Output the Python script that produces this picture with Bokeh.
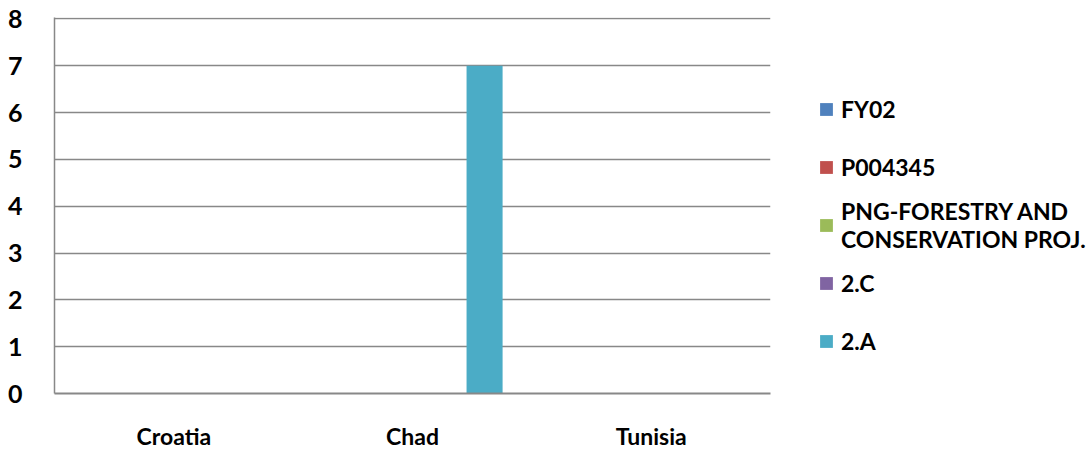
from bokeh.plotting import figure
from bokeh.models import Range1d, FactorRange, ColumnDataSource, Legend, LegendItem
from bokeh.transform import dodge
from bokeh.embed import file_html
from bokeh.resources import INLINE

categories = ["Croatia", "Chad", "Tunisia"]
series_names = ["FY02", "P004345", "PNG-FORESTRY AND\nCONSERVATION PROJ.", "2.C", "2.A"]
fy02 = [0, 0, 0]
p004345 = [0, 0, 0]
png_forestry = [0, 0, 0]
s_2c = [0, 0, 0]
s_2a = [0, 7, 0]
y_ticks = [0, 1, 2, 3, 4, 5, 6, 7, 8]

colors = ["#4F81BD", "#C0504D", "#9BBB59", "#8064A2", "#4BACC6"]
series_values = [fy02, p004345, png_forestry, s_2c, s_2a]
keys = ["s0", "s1", "s2", "s3", "s4"]

data = {"cat": categories}
for k, v in zip(keys, series_values):
    data[k] = v
source = ColumnDataSource(data)

FONT = "Lato"
GRID = "#888888"

p = figure(x_range=FactorRange(*categories, range_padding=0), y_range=Range1d(0, 8.03),
           frame_width=716, frame_height=376, output_backend="svg", toolbar_location=None,
           min_border_left=54, min_border_right=0, min_border_top=17, min_border_bottom=0)
p.outline_line_color = None
p.background_fill_color = "white"
p.border_fill_color = "white"

bw = 0.151
offsets = [-2 * bw, -bw, 0, bw, 2 * bw]
renderers = []
for k, off, c in zip(keys, offsets, colors):
    r = p.vbar(x=dodge("cat", off, range=p.x_range), top=k, bottom=0, width=bw,
               source=source, fill_color=c, line_color=None)
    renderers.append(r)

p.xgrid.grid_line_color = None
p.ygrid.grid_line_color = GRID
p.ygrid.grid_line_width = 1.3
p.yaxis.ticker = y_ticks

for ax in (p.xaxis[0], p.yaxis[0]):
    ax.axis_line_color = GRID
    ax.major_tick_line_color = None
    ax.minor_tick_line_color = None
    ax.major_label_text_font = FONT
    ax.major_label_text_font_style = "bold"
    ax.major_label_text_color = "black"
p.xaxis.axis_line_width = 2
p.yaxis.axis_line_width = 1.5
p.yaxis.major_label_text_font_size = "25px"
p.yaxis.major_label_standoff = 26
p.xaxis.major_label_text_font_size = "23px"
p.xaxis.major_label_standoff = 22

legend = Legend(items=[LegendItem(label=n, renderers=[r]) for n, r in zip(series_names, renderers)],
                location=(48, 24),
                padding=0, margin=0, border_line_color=None, background_fill_alpha=0,
                glyph_width=16, glyph_height=16, label_height=56, label_standoff=7, spacing=2,
                label_text_font=FONT, label_text_font_style="bold",
                label_text_font_size="23px", label_text_color="black")
p.add_layout(legend, "right")

open("out.html", "w").write(file_html(p, INLINE))
